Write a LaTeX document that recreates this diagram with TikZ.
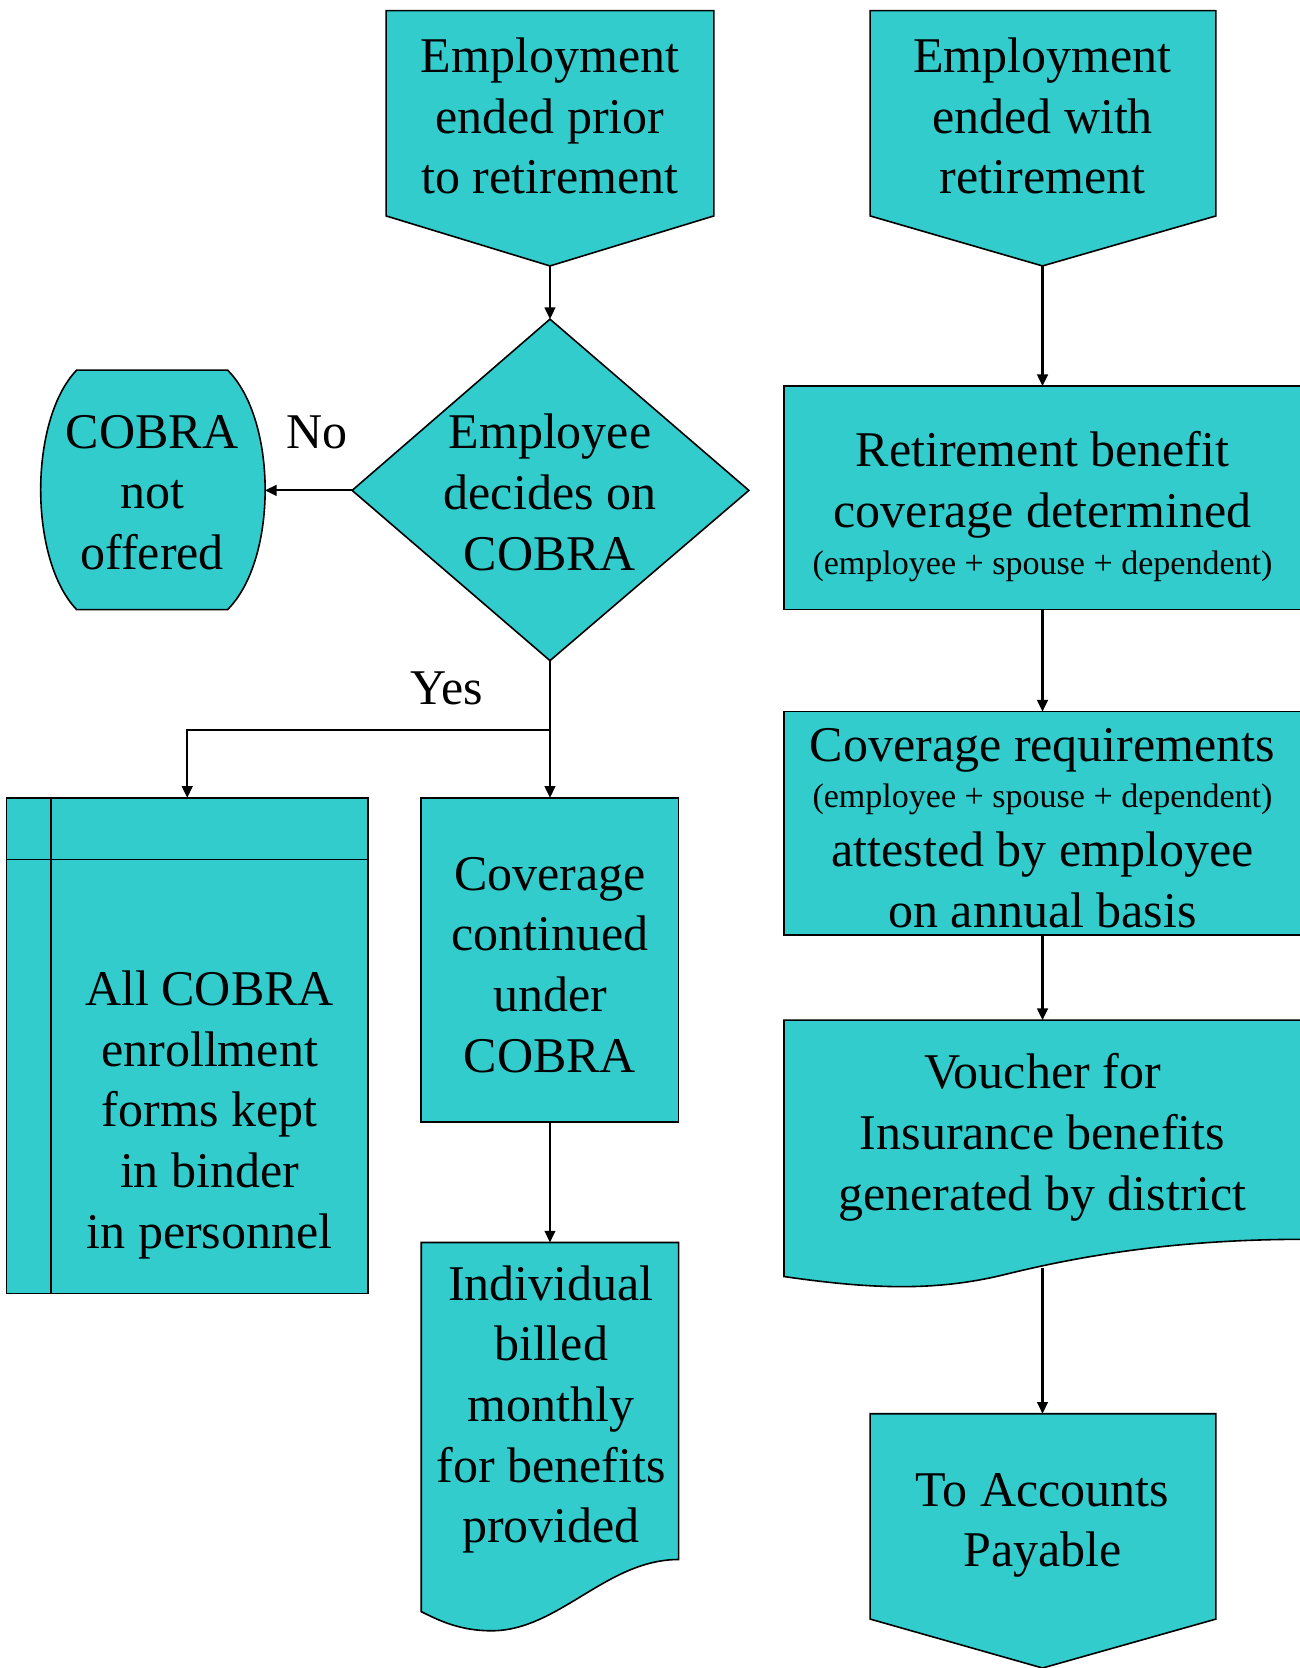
\documentclass[tikz,border=0pt]{standalone}
\usepackage{fontspec}
\setmainfont{Liberation Serif}
\usetikzlibrary{arrows.meta}
\definecolor{tq}{HTML}{33CCCC}
\begin{document}
\begin{tikzpicture}[x=0.5pt,y=-0.5pt,
  shp/.style={draw=black, fill=tq, line width=0.75pt},
  big/.style={font=\fontsize{23.5}{28.5}\selectfont, align=center, inner sep=0pt},
  small/.style={font=\fontsize{16}{19}\selectfont, align=center, inner sep=0pt},
  conn/.style={draw=black, line width=1pt, -{Triangle[length=5.5pt,width=5pt]}}]
\useasboundingbox (0,0) rectangle (1222,1568);

% ---- left/middle column ----
\path[shp] (363,10) -- (671,10) -- (671,203) -- (517,250) -- (363,203) -- cycle;
\node[big] (t1) at (517,109) {Employment\\ended prior\\to retirement};
\coordinate (t1b) at (517,250);

\path[shp] (517,300) -- (704,461) -- (517,621) -- (331,461) -- cycle;
\node[big] (dec) at (517,463) {Employee\\decides on\\COBRA};
\coordinate (dtop) at (517,300);
\coordinate (dleft) at (331,461);
\coordinate (dbot) at (517,621);

\path[shp] (72,348) -- (214,348) .. controls (261,395) and (261,526) .. (214,573)
  -- (72,573) .. controls (27,526) and (27,395) .. (72,348) -- cycle;
\node[big] (nooff) at (143,463) {COBRA\\not\\offered};
\coordinate (nor) at (249,461);

\path[shp] (6,750) rectangle (346,1216);
\draw[line width=0.75pt] (48,750) -- (48,1216);
\draw[line width=0.75pt] (6,808) -- (346,808);
\node[big] (store) at (197,1048) {All COBRA\\enrollment\\forms kept\\in binder\\in personnel};
\coordinate (storetop) at (176,750);

\path[shp] (396,750) rectangle (638,1055);
\node[big] (cont) at (517,907) {Coverage\\continued\\under\\COBRA};
\coordinate (conttop) at (517,750);
\coordinate (contbot) at (517,1055);

\path[shp] (396,1168) -- (638,1168) -- (638,1466)
  .. controls (570,1466) and (525,1533) .. (462,1533)
  .. controls (432,1533) and (412,1523) .. (396,1515) -- cycle;
\node[big] (bill) at (518,1325) {Individual\\billed\\monthly\\for benefits\\provided};
\coordinate (billtop) at (517,1168);

\coordinate (split) at (517,686);

\draw[conn] (t1b) -- (dtop);
\draw[conn] (dleft) -- (nor);
\draw[conn] (dbot) -- (conttop);
\draw[conn] (split) -| (storetop);
\draw[conn] (contbot) -- (billtop);
\node[big] (nolab) at (298,406) {No};
\node[big] (yeslab) at (420,647) {Yes};

% ---- right column ----
\path[shp] (818,10) -- (1143,10) -- (1143,203) -- (980,250) -- (818,203) -- cycle;
\node[big] (t2) at (980,109) {Employment\\ended with\\retirement};
\coordinate (t2b) at (980,250);

\path[shp] (737,363) rectangle (1226,573);
\node[big] (r1) at (980,456) {Retirement benefit\\coverage determined};
\node[small] (r1s) at (980,532) {(employee + spouse + dependent)};
\coordinate (r1t) at (980,363);
\coordinate (r1b) at (980,573);

\path[shp] (737,669) rectangle (1226,879);
\node[big] (r2a) at (980,705) {Coverage requirements};
\node[small] (r2s) at (980,751) {(employee + spouse + dependent)};
\node[big] (r2b) at (980,827) {attested by employee\\on annual basis};
\coordinate (r2t) at (980,669);
\coordinate (r2bot) at (980,879);

\path[shp] (737,959) -- (1226,959) -- (1226,1165)
  .. controls (1100,1165) and (1010,1182) .. (945,1198)
  .. controls (880,1214) and (820,1212) .. (737,1200) -- cycle;
\node[big] (vou) at (980,1069) {Voucher for\\Insurance benefits\\generated by district};
\coordinate (vout) at (980,959);
\coordinate (voub) at (980,1192);

\path[shp] (818,1329) -- (1143,1329) -- (1143,1522) -- (980,1568) -- (818,1522) -- cycle;
\node[big] (ap) at (980,1434) {To Accounts\\Payable};
\coordinate (apt) at (980,1329);

\draw[conn] (t2b) -- (r1t);
\draw[conn] (r1b) -- (r2t);
\draw[conn] (r2bot) -- (vout);
\draw[conn] (voub) -- (apt);
\end{tikzpicture}
\end{document}
